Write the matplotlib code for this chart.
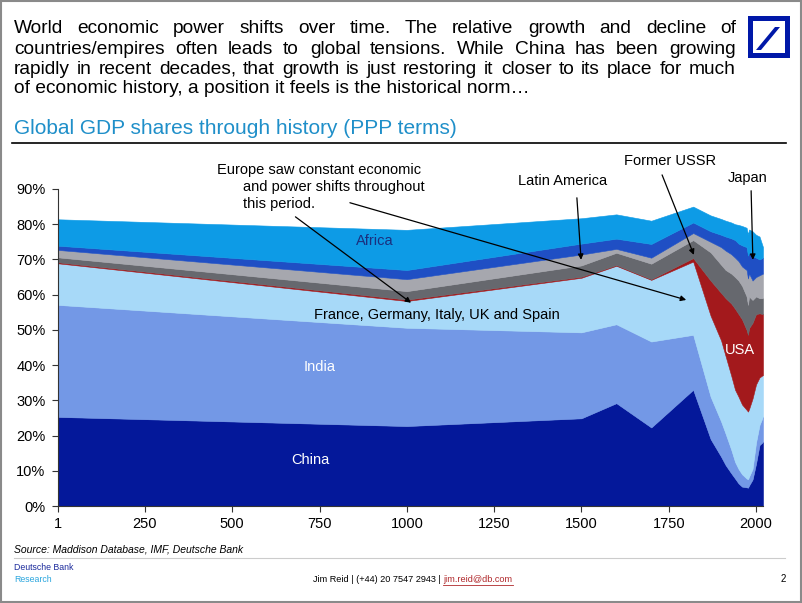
import numpy as np
import matplotlib
matplotlib.use('Agg')
import matplotlib.pyplot as plt
from matplotlib import font_manager
from matplotlib.patches import Rectangle, Polygon
from matplotlib.lines import Line2D

###############################################################################
## data: shares of world GDP (%, PPP)
years  = [1, 1000, 1500, 1600, 1700, 1820, 1870, 1900, 1913, 1929, 1940, 1950,
          1960, 1973, 1977, 1980, 1990, 2000, 2010, 2020]
china  = [25.3, 22.7, 24.9, 29.2, 22.3, 33.0, 19.0, 14.0, 11.6, 9.3, 7.8, 6.4,
          5.5, 5.3, 5.2, 5.8, 7.5, 12.0, 17.3, 18.2]
india  = [31.8, 27.9, 24.4, 22.4, 24.4, 15.6, 12.0, 10.0, 8.9, 6.7, 4.7, 4.1,
          3.5, 2.5, 2.4, 2.5, 3.0, 6.0, 5.7, 7.2]
europe = [11.8, 7.6, 15.5, 16.6, 17.5, 20.8, 23.0, 23.0, 22.0, 21.0, 20.5, 20.5,
          19.8, 19.5, 19.2, 19.2, 20.0, 16.5, 13.5, 11.8]
usa    = [0.3, 0.4, 0.3, 0.2, 0.2, 1.0, 10.0, 13.5, 16.5, 20.5, 23.0, 23.5,
          24.2, 22.7, 21.8, 23.0, 21.5, 20.0, 18.2, 17.3]
ussr   = [1.4, 2.4, 3.2, 3.5, 4.4, 5.1, 8.0, 8.0, 8.0, 8.5, 9.0, 9.5,
          9.5, 9.5, 8.5, 9.0, 6.5, 5.0, 4.3, 4.5]
latam  = [2.1, 3.4, 3.1, 1.1, 1.7, 2.0, 3.0, 5.0, 5.5, 5.5, 5.5, 5.5,
          5.5, 7.5, 7.5, 6.5, 5.5, 5.5, 6.5, 7.0]
japan  = [1.2, 2.6, 3.1, 2.9, 3.9, 3.0, 3.0, 3.5, 4.0, 4.5, 5.0, 5.0,
          6.0, 6.5, 6.5, 6.0, 7.0, 5.5, 4.5, 4.5]
africa = [7.5, 11.4, 7.2, 6.9, 6.6, 4.5, 4.5, 4.5, 4.5, 4.5, 4.5, 5.3,
          5.5, 5.5, 6.0, 6.5, 7.0, 6.5, 6.5, 3.0]

series = [china, india, europe, usa, ussr, latam, japan, africa]
colors = ['#04189a', '#7398e6', '#a7d9f8', '#a3191c',
          '#66686e', '#a6a7ae', '#1f4fc4', '#0d9be6']
xticks = [1, 250, 500, 750, 1000, 1250, 1500, 1750, 2000]
yticks = [0, 10, 20, 30, 40, 50, 60, 70, 80, 90]

###############################################################################
W, H = 802, 603
installed = set(f.name for f in font_manager.fontManager.ttflist)
SANS = 'Liberation Sans' if 'Liberation Sans' in installed else 'DejaVu Sans'
plt.rcParams['font.family'] = SANS

fig = plt.figure(figsize=(W / 100, H / 100), dpi=100)
fig.patch.set_facecolor('white')

def fx(x):
    return x / W

def fy(y):
    return 1 - y / H

## chart ######################################################################
ax = fig.add_axes([fx(58), fy(506), fx(763) - fx(58), fy(189) - fy(506)])
yr = np.array(years, dtype=float)
base = np.zeros(len(years))
for s, c in zip(series, colors):
    top = base + np.array(s)
    ax.fill_between(yr, base, top, facecolor=c, edgecolor=c, lw=0.4)
    base = top

ax.set_xlim(1, 2020)
ax.set_ylim(0, 90)
ax.set_xticks(xticks)
ax.set_xticklabels([str(t) for t in xticks], fontsize=10.5)
ax.set_yticks(yticks)
ax.set_yticklabels(['%d%%' % t for t in yticks], fontsize=10.5)
ax.spines['top'].set_visible(False)
ax.spines['right'].set_visible(False)
for sp in ['left', 'bottom']:
    ax.spines[sp].set_color('#333333')
    ax.spines[sp].set_linewidth(0.8)
ax.tick_params(axis='both', direction='out', length=4, width=0.8, color='#333333')
ax.tick_params(axis='x', pad=4)
ax.tick_params(axis='y', pad=5)

## labels inside the areas
ax.text(909, 75.3, 'Africa', color='#1b2f7e', fontsize=10.5, ha='center', va='center')
ax.text(1086, 54.3, 'France, Germany, Italy, UK and Spain', color='black',
        fontsize=10.5, ha='center', va='center')
ax.text(751, 39.5, 'India', color='white', fontsize=10.5, ha='center', va='center')
ax.text(723, 13.1, 'China', color='white', fontsize=10.5, ha='center', va='center')
ax.text(1954, 44.3, 'USA', color='white', fontsize=10.5, ha='center', va='center')

## annotations
arrow = dict(arrowstyle='-|>', color='black', lw=0.9, mutation_scale=8,
             shrinkA=0, shrinkB=0)
ax.text(456, 95.5, 'Europe saw constant economic', fontsize=10.5, ha='left',
        va='center', clip_on=False)
ax.text(531, 90.6, 'and power shifts throughout', fontsize=10.5, ha='left',
        va='center', clip_on=False)
ax.text(531, 85.8, 'this period.', fontsize=10.5, ha='left', va='center',
        clip_on=False)
ax.annotate('', xy=(1012, 57.7), xytext=(681, 82.1), arrowprops=arrow,
            annotation_clip=False)
ax.annotate('', xy=(1800, 58.5), xytext=(837, 86.1), arrowprops=arrow,
            annotation_clip=False)
ax.text(1447, 92.3, 'Latin America', fontsize=10.5, ha='center', va='center',
        clip_on=False)
ax.annotate('', xy=(1499, 69.9), xytext=(1487, 87.5), arrowprops=arrow,
            annotation_clip=False)
ax.text(1754, 98.0, 'Former USSR', fontsize=10.5, ha='center', va='center',
        clip_on=False)
ax.annotate('', xy=(1822, 71.3), xytext=(1731, 94.0), arrowprops=arrow,
            annotation_clip=False)
ax.text(1977, 93.2, 'Japan', fontsize=10.5, ha='center', va='center',
        clip_on=False)
ax.annotate('', xy=(1991, 69.9), xytext=(1986, 89.5), arrowprops=arrow,
            annotation_clip=False)

## header #####################################################################
renderer = fig.canvas.get_renderer()
para = ['World economic power shifts over time. The relative growth and decline of',
        'countries/empires often leads to global tensions. While China has been growing',
        'rapidly in recent decades, that growth is just restoring it closer to its place for much',
        'of economic history, a position it feels is the historical norm\u2026']
baselines = [33, 53.5, 73.5, 93]
left, right = 14, 736

## largest size (up to 13.8pt) at which every line still fits the column
fs = 13.8
probe = fig.text(0, 0, para[2], fontsize=fs)
while probe.get_window_extent(renderer).width > (right - left) - 4 and fs > 10:
    fs -= 0.1
    probe.set_fontsize(fs)
probe.remove()

for ii, line in enumerate(para):
    if ii == len(para) - 1:
        fig.text(fx(left), fy(baselines[ii]), line, fontsize=fs, va='baseline')
        continue
    words = line.split()
    ts = [fig.text(0, fy(baselines[ii]), w, fontsize=fs, va='baseline') for w in words]
    widths = [t.get_window_extent(renderer).width for t in ts]
    gap = (right - left - sum(widths)) / (len(words) - 1)
    xpos = left
    for t, wd in zip(ts, widths):
        t.set_x(fx(round(xpos)))
        xpos += wd + gap

fig.text(fx(14), fy(134), 'Global GDP shares through history (PPP terms)',
         fontsize=15, color='#1f8fc9', va='baseline')
fig.add_artist(Line2D([fx(12), fx(786)], [fy(143), fy(143)], color='black', lw=1.2))

## logo
fig.add_artist(Rectangle((fx(748), fy(58)), fx(42), 42 / H, transform=fig.transFigure,
                         facecolor='#0018a8', edgecolor='none'))
fig.add_artist(Rectangle((fx(753), fy(53)), fx(32), 32 / H, transform=fig.transFigure,
                         facecolor='white', edgecolor='none'))
fig.add_artist(Polygon([(fx(756), fy(50)), (fx(761), fy(50)), (fx(780), fy(27)),
                        (fx(775), fy(27))], closed=True, transform=fig.transFigure,
                       facecolor='#0018a8', edgecolor='none'))

## footer #####################################################################
fig.text(fx(14), fy(550), 'Source: Maddison Database, IMF, Deutsche Bank',
         fontsize=7.5, style='italic', va='center')
fig.add_artist(Line2D([fx(14), fx(785)], [fy(558), fy(558)], color='#cccccc', lw=0.8))
fig.text(fx(14), fy(568), 'Deutsche Bank', fontsize=6.3, color='#1b2a9c', va='center')
fig.text(fx(14), fy(579), 'Research', fontsize=6.3, color='#2ba6de', va='center')
t1 = fig.text(fx(313), fy(579), 'Jim Reid | (+44) 20 7547 2943 | ', fontsize=6.6,
              va='center')
bb = t1.get_window_extent(renderer)
t2 = fig.text(fx(bb.x1), fy(579), 'jim.reid@db.com', fontsize=6.6,
              color='#b0282b', va='center')
bb2 = t2.get_window_extent(renderer)
fig.add_artist(Line2D([fx(bb2.x0), fx(bb2.x1)], [fy(584.5), fy(584.5)],
                      color='#b0282b', lw=0.6))
fig.text(fx(783), fy(579), '2', fontsize=7, va='center', ha='center')

## page frame
fig.add_artist(Rectangle((0.001, 0.001), 0.998, 0.998, transform=fig.transFigure,
                         fill=False, edgecolor='#8a8a8a', lw=1.5))

fig.savefig('out.png', dpi=100)
